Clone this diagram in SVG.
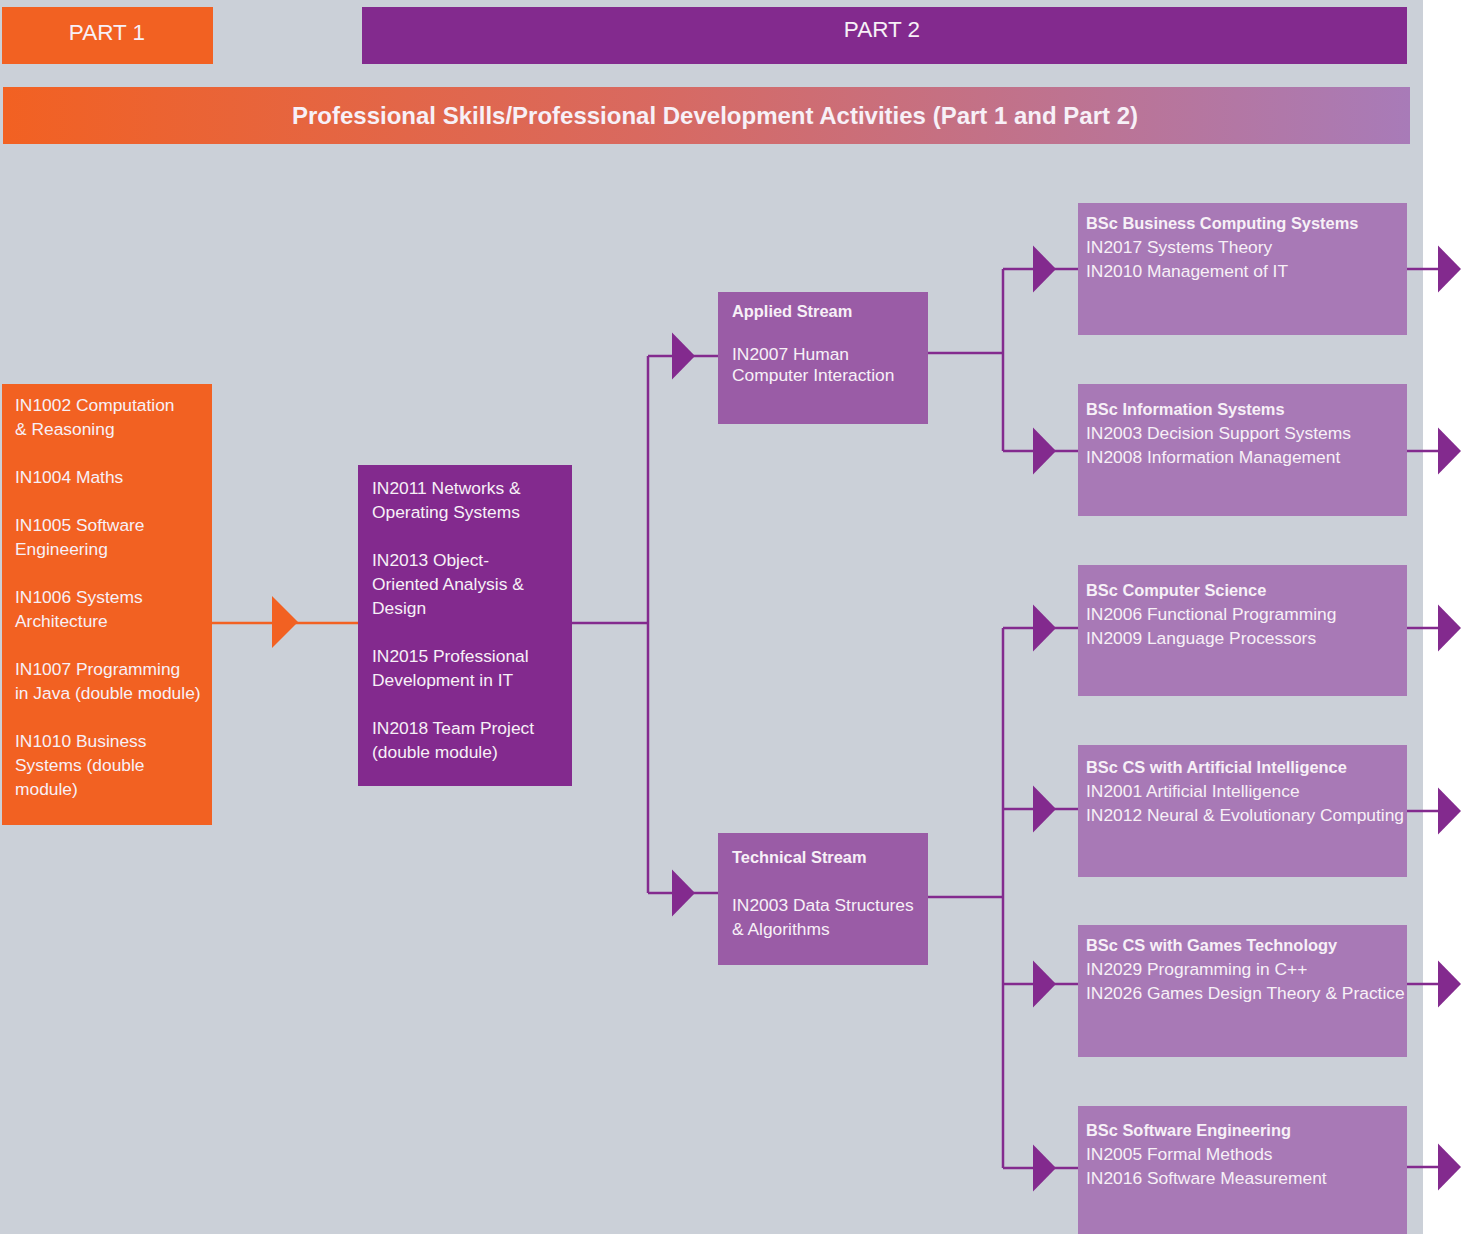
<svg xmlns="http://www.w3.org/2000/svg" width="1469" height="1234" viewBox="0 0 1469 1234">
<defs>
<linearGradient id="grad" x1="0" y1="0" x2="1" y2="0">
<stop offset="0" stop-color="#F26122"/>
<stop offset="0.45" stop-color="#D9695F"/>
<stop offset="1" stop-color="#A87BB8"/>
</linearGradient>
<path id="tri" d="M0,-23.5 L23,0 L0,23.5 Z"/>
</defs>
<style>
text{font-family:"Liberation Sans",Arial,sans-serif;fill:#F7F0F7;font-size:17.4px}
.b{font-weight:bold;font-size:16.4px}
.hdr{font-size:22.5px}
.title{font-size:24px;font-weight:bold}
.orange{fill:#F26122}
.dp{fill:#832A8E}
.mp{fill:#9A5CA6}
.lp{fill:#A879B6}
.ln{stroke:#832A8E;stroke-width:2.5;fill:none}
.lno{stroke:#F26122;stroke-width:2.5;fill:none}
.ah{fill:#832A8E}
</style>
<rect x="0" y="0" width="1469" height="1234" fill="#FFFFFF"/>
<rect x="0" y="0" width="1423" height="1234" fill="#CBD0D8"/>

<g id="part1">
<rect class="orange" x="2" y="7" width="211" height="57"/>
<text class="hdr" x="107" y="40" text-anchor="middle">PART 1</text>
</g>
<g id="part2">
<rect class="dp" x="362" y="7" width="1045" height="57"/>
<text class="hdr" x="882" y="37" text-anchor="middle">PART 2</text>
</g>
<g id="professional-skills">
<rect fill="url(#grad)" x="3" y="87" width="1407" height="57"/>
<text class="title" x="715" y="124" text-anchor="middle">Professional Skills/Professional Development Activities (Part 1 and Part 2)</text>
</g>

<g id="connectors">
<path class="lno" d="M212,623 H358"/>
<path fill="#F26122" d="M272,596 L298,622 L272,648 Z"/>
<path class="ln" d="M572,623 H648 M648,356 V893 M648,356 H718 M648,893 H718"/>
<use href="#tri" class="ah" x="672" y="356"/>
<use href="#tri" class="ah" x="672" y="893"/>
<path class="ln" d="M928,353 H1003 M1003,269 V451 M1003,269 H1078 M1003,451 H1078"/>
<path class="ln" d="M928,897 H1003 M1003,628 V1168 M1003,628 H1078 M1003,809 H1078 M1003,984 H1078 M1003,1168 H1078"/>
<use href="#tri" class="ah" x="1033" y="269"/>
<use href="#tri" class="ah" x="1033" y="451"/>
<use href="#tri" class="ah" x="1033" y="628"/>
<use href="#tri" class="ah" x="1033" y="809"/>
<use href="#tri" class="ah" x="1033" y="984"/>
<use href="#tri" class="ah" x="1033" y="1168"/>
<path class="ln" d="M1407,269 H1440 M1407,451 H1440 M1407,628 H1440 M1407,811 H1440 M1407,984 H1440 M1407,1167 H1440"/>
<use href="#tri" class="ah" x="1438" y="269"/>
<use href="#tri" class="ah" x="1438" y="451"/>
<use href="#tri" class="ah" x="1438" y="628"/>
<use href="#tri" class="ah" x="1438" y="811"/>
<use href="#tri" class="ah" x="1438" y="984"/>
<use href="#tri" class="ah" x="1438" y="1167"/>
</g>

<g id="part1-modules">
<rect class="orange" x="2" y="384" width="210" height="441"/>
<text x="15" y="411">IN1002 Computation</text>
<text x="15" y="435">&amp; Reasoning</text>
<text x="15" y="483">IN1004 Maths</text>
<text x="15" y="531">IN1005 Software</text>
<text x="15" y="555">Engineering</text>
<text x="15" y="603">IN1006 Systems</text>
<text x="15" y="627">Architecture</text>
<text x="15" y="675">IN1007 Programming</text>
<text x="15" y="699">in Java (double module)</text>
<text x="15" y="747">IN1010 Business</text>
<text x="15" y="771">Systems (double</text>
<text x="15" y="795">module)</text>
</g>

<g id="part2-core">
<rect class="dp" x="358" y="465" width="214" height="321"/>
<text x="372" y="494">IN2011 Networks &amp;</text>
<text x="372" y="518">Operating Systems</text>
<text x="372" y="566">IN2013 Object-</text>
<text x="372" y="590">Oriented Analysis &amp;</text>
<text x="372" y="614">Design</text>
<text x="372" y="662">IN2015 Professional</text>
<text x="372" y="686">Development in IT</text>
<text x="372" y="734">IN2018 Team Project</text>
<text x="372" y="758">(double module)</text>
</g>

<g id="applied-stream">
<rect class="mp" x="718" y="292" width="210" height="132"/>
<text class="b" x="732" y="317">Applied Stream</text>
<text x="732" y="360">IN2007 Human</text>
<text x="732" y="381">Computer Interaction</text>
</g>

<g id="technical-stream">
<rect class="mp" x="718" y="833" width="210" height="132"/>
<text class="b" x="732" y="863">Technical Stream</text>
<text x="732" y="911">IN2003 Data Structures</text>
<text x="732" y="935">&amp; Algorithms</text>
</g>

<g id="bsc-business-computing">
<rect class="lp" x="1078" y="203" width="329" height="132"/>
<text class="b" x="1086" y="229">BSc Business Computing Systems</text>
<text x="1086" y="253">IN2017 Systems Theory</text>
<text x="1086" y="277">IN2010 Management of IT</text>
</g>

<g id="bsc-information-systems">
<rect class="lp" x="1078" y="384" width="329" height="132"/>
<text class="b" x="1086" y="415">BSc Information Systems</text>
<text x="1086" y="439">IN2003 Decision Support Systems</text>
<text x="1086" y="463">IN2008 Information Management</text>
</g>

<g id="bsc-computer-science">
<rect class="lp" x="1078" y="565" width="329" height="131"/>
<text class="b" x="1086" y="596">BSc Computer Science</text>
<text x="1086" y="620">IN2006 Functional Programming</text>
<text x="1086" y="644">IN2009 Language Processors</text>
</g>

<g id="bsc-cs-ai">
<rect class="lp" x="1078" y="745" width="329" height="132"/>
<text class="b" x="1086" y="773">BSc CS with Artificial Intelligence</text>
<text x="1086" y="797">IN2001 Artificial Intelligence</text>
<text x="1086" y="821">IN2012 Neural &amp; Evolutionary Computing</text>
</g>

<g id="bsc-cs-games">
<rect class="lp" x="1078" y="925" width="329" height="132"/>
<text class="b" x="1086" y="951">BSc CS with Games Technology</text>
<text x="1086" y="975">IN2029 Programming in C++</text>
<text x="1086" y="999">IN2026 Games Design Theory &amp; Practice</text>
</g>

<g id="bsc-software-engineering">
<rect class="lp" x="1078" y="1106" width="329" height="128"/>
<text class="b" x="1086" y="1136">BSc Software Engineering</text>
<text x="1086" y="1160">IN2005 Formal Methods</text>
<text x="1086" y="1184">IN2016 Software Measurement</text>
</g>
</svg>
